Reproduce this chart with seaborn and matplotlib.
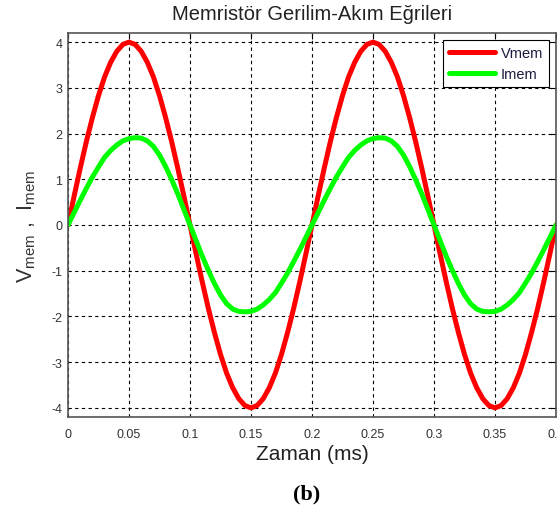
import numpy as np
import pandas as pd
import matplotlib
matplotlib.use("Agg")
import matplotlib.pyplot as plt
import seaborn as sns

# Sampling instants (ms), 0.005 ms apart
zaman = np.linspace(0.0, 0.4, 81)

# Memristor voltage (V)
vmem = [
    0.00, 0.63, 1.24, 1.82, 2.35, 2.83, 3.24, 3.56, 3.80, 3.95,
    4.00, 3.95, 3.80, 3.56, 3.24, 2.83, 2.35, 1.82, 1.24, 0.63,
    0.00, -0.63, -1.24, -1.82, -2.35, -2.83, -3.24, -3.56, -3.80, -3.95,
    -4.00, -3.95, -3.80, -3.56, -3.24, -2.83, -2.35, -1.82, -1.24, -0.63,
    0.00, 0.63, 1.24, 1.82, 2.35, 2.83, 3.24, 3.56, 3.80, 3.95,
    4.00, 3.95, 3.80, 3.56, 3.24, 2.83, 2.35, 1.82, 1.24, 0.63,
    0.00, -0.63, -1.24, -1.82, -2.35, -2.83, -3.24, -3.56, -3.80, -3.95,
    -4.00, -3.95, -3.80, -3.56, -3.24, -2.83, -2.35, -1.82, -1.24, -0.63,
    0.00,
]

# Memristor current
imem = [
    0.00, 0.27, 0.54, 0.80, 1.05, 1.27, 1.48, 1.63, 1.75, 1.84,
    1.89, 1.91, 1.90, 1.84, 1.72, 1.53, 1.28, 0.99, 0.68, 0.34,
    0.00, -0.34, -0.68, -0.99, -1.28, -1.53, -1.72, -1.84, -1.89, -1.90,
    -1.89, -1.84, -1.75, -1.63, -1.48, -1.27, -1.05, -0.80, -0.54, -0.27,
    0.00, 0.27, 0.54, 0.80, 1.05, 1.27, 1.48, 1.63, 1.75, 1.84,
    1.89, 1.91, 1.90, 1.84, 1.72, 1.53, 1.28, 0.99, 0.68, 0.34,
    0.00, -0.34, -0.68, -0.99, -1.28, -1.53, -1.72, -1.84, -1.89, -1.90,
    -1.89, -1.84, -1.75, -1.63, -1.48, -1.27, -1.05, -0.80, -0.54, -0.27,
    0.00,
]

x_ticks = [0, 0.05, 0.1, 0.15, 0.2, 0.25, 0.3, 0.35, 0.4]
x_tick_labels = ["0", "0.05", "0.1", "0.15", "0.2", "0.25", "0.3", "0.35", "0.4"]
y_ticks = [-4, -3, -2, -1, 0, 1, 2, 3, 4]
y_tick_labels = ["-4", "-3", "-2", "-1", "0", "1", "2", "3", "4"]

df = pd.DataFrame({"t": zaman, "Vmem": vmem, "Imem": imem})

sns.set_style("white")
plt.rcParams["font.family"] = ["Liberation Sans", "DejaVu Sans"]
plt.rcParams["mathtext.default"] = "regular"

fig = plt.figure(figsize=(5.57, 5.06), dpi=100)
ax = fig.add_axes([68 / 557, 1 - 418 / 506, 488 / 557, 384 / 506])

sns.lineplot(data=df, x="t", y="Vmem", ax=ax, color="#ff0000",
             linewidth=3.6, label="Vmem")
sns.lineplot(data=df, x="t", y="Imem", ax=ax, color="#00ff00",
             linewidth=3.6, label="Imem")

ax.set_xlim(0, 0.4)
ax.set_ylim(-4.2, 4.2)
ax.set_xticks(x_ticks)
ax.set_xticklabels(x_tick_labels)
ax.set_yticks(y_ticks)
ax.set_yticklabels(y_tick_labels)

ax.grid(True, color="black", linestyle=(0, (3, 3)), linewidth=0.8)
ax.set_axisbelow(True)

for sp in ax.spines.values():
    sp.set_color("#555555")
    sp.set_linewidth(1.2)

ax.tick_params(axis="both", direction="in", length=4, width=0.8,
               color="black", labelcolor="#333333", labelsize=9,
               top=True, right=True)
ax.tick_params(axis="x", pad=8)
ax.tick_params(axis="y", pad=4)

ax.set_title("Memristör Gerilim-Akım Eğrileri", fontsize=14.5,
             color="#222222", pad=10)
ax.set_xlabel("Zaman (ms)", fontsize=15, color="#222222", labelpad=3)
ax.set_ylabel(r"$V_{mem}\ ,\ I_{mem}$", fontsize=15.5, color="#333333")
ax.yaxis.set_label_coords(-0.062, 0.5)

leg = ax.legend(loc="upper right", fontsize=10.5, frameon=True,
                fancybox=False, framealpha=1, edgecolor="black",
                handlelength=3.1, handletextpad=0.4, labelspacing=0.45,
                borderaxespad=0.45, borderpad=0.45)
leg.get_frame().set_linewidth(0.8)
for txt in leg.get_texts():
    txt.set_color("#1a1a40")

fig.text(307 / 557, 1 - 494 / 506, "(b)", fontsize=16, fontweight="bold",
         family=["Liberation Serif", "DejaVu Serif"], ha="center",
         va="center", color="black")

fig.savefig("out.png", dpi=100)
